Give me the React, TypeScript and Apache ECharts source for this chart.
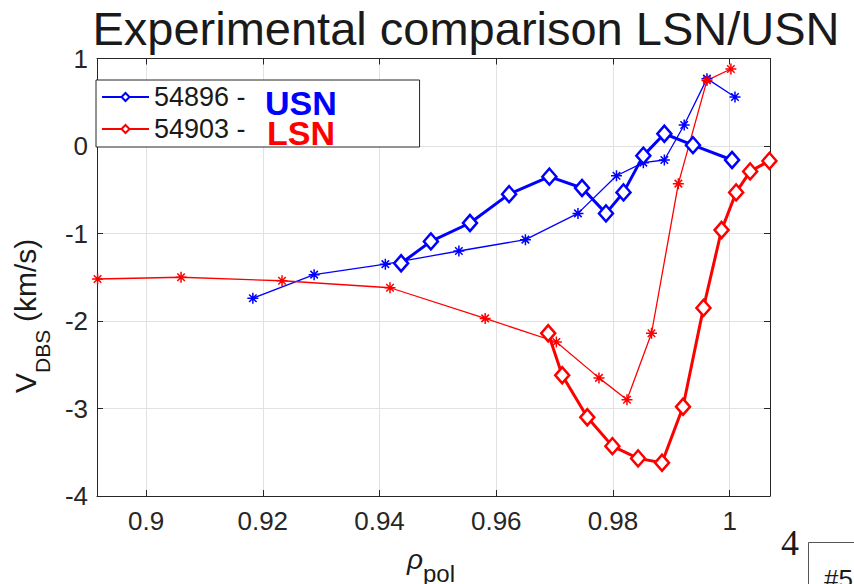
import React, { useEffect, useRef } from 'react';
import * as echarts from 'echarts';

// 54896 (USN) – thick line with diamonds
const blueDiaX = [0.9437, 0.9488, 0.9555, 0.9622, 0.9691, 0.9747, 0.9788, 0.9818, 0.9852, 0.9888, 0.9937, 1.0004];
const blueDiaY = [-1.34, -1.09, -0.88, -0.55, -0.35, -0.48, -0.77, -0.53, -0.11, 0.14, 0.01, -0.16];
// 54896 – thin line with asterisks
const blueStarX = [0.9183, 0.9288, 0.9410, 0.9536, 0.9650, 0.9740, 0.9806, 0.9852, 0.9888, 0.9922, 0.9961, 1.0009];
const blueStarY = [-1.74, -1.47, -1.35, -1.20, -1.07, -0.77, -0.34, -0.19, -0.16, 0.24, 0.77, 0.56];
// 54903 (LSN) – thick line with diamonds
const redDiaX = [0.9689, 0.9713, 0.9756, 0.9799, 0.9843, 0.9884, 0.9920, 0.9955, 0.9986, 1.0011, 1.0035, 1.0068];
const redDiaY = [-2.14, -2.62, -3.10, -3.43, -3.57, -3.62, -2.98, -1.85, -0.96, -0.53, -0.29, -0.17];
// 54903 – thin line with asterisks
const redStarX = [0.8917, 0.9060, 0.9233, 0.9418, 0.9581, 0.9703, 0.9776, 0.9824, 0.9866, 0.9912, 0.9961, 1.0002];
const redStarY = [-1.52, -1.50, -1.54, -1.62, -1.97, -2.24, -2.65, -2.90, -2.14, -0.43, 0.75, 0.88];

const seriesNames = ['54896 -', '54903 -'];
const tagTexts = ['USN', 'LSN'];
const titleText = 'Experimental comparison LSN/USN';

const xMin = 0.8916;
const xMax = 1.0069;
const yMin = -4;
const yMax = 1;
const yInterval = 1;

const BLUE = '#0000ff';
const RED = '#ff0000';
const AX = '#262626';
const GRID = '#e2e2e2';
const FONT = '"Liberation Sans", Arial, Helvetica, sans-serif';
const ASTERISK = 'path://M5,0L5,10M0,5L10,5M1.6,1.6L8.4,8.4M1.6,8.4L8.4,1.6';

const pair = (xs: number[], ys: number[]) => xs.map((x, i) => [x, ys[i]]);

export default function App() {
  const ref = useRef<HTMLDivElement>(null);
  useEffect(() => {
    if (!ref.current) return;
    const chart = echarts.init(ref.current, null, { renderer: 'svg' });

    const xBase = {
      type: 'value',
      min: xMin,
      max: xMax,
      splitNumber: 5,
      axisLine: { show: true, onZero: false, lineStyle: { color: AX, width: 1 } },
      axisTick: { show: true, inside: true, length: 6, lineStyle: { color: AX, width: 1 } },
    };
    const yBase = {
      type: 'value',
      min: yMin,
      max: yMax,
      interval: yInterval,
      axisLine: { show: true, onZero: false, lineStyle: { color: AX, width: 1 } },
      axisTick: { show: true, inside: true, length: 6, lineStyle: { color: AX, width: 1 } },
    };

    const thick = (name: string, data: number[][], color: string) => ({
      name,
      type: 'line',
      data,
      color,
      clip: false,
      symbol: 'diamond',
      symbolSize: [14, 16],
      lineStyle: { color, width: 3 },
      itemStyle: { color: '#ffffff', borderColor: color, borderWidth: 2.5 },
      z: 3,
    });
    const thin = (name: string, data: number[][], color: string) => ({
      name,
      type: 'line',
      data,
      color,
      clip: false,
      symbol: ASTERISK,
      symbolSize: 11,
      lineStyle: { color, width: 1.3 },
      itemStyle: { color: 'none', borderColor: color, borderWidth: 1.5 },
      z: 2,
    });

    const yLabelX = 25;
    chart.setOption({
      animation: false,
      backgroundColor: '#ffffff',
      grid: { left: 97, right: 84, top: 58.5, bottom: 88, containLabel: false },
      xAxis: [
        {
          ...xBase,
          position: 'bottom',
          axisLabel: {
            showMinLabel: false,
            showMaxLabel: false,
            color: AX,
            fontSize: 26,
            fontFamily: FONT,
            margin: 12,
          },
          splitLine: { show: true, lineStyle: { color: GRID, width: 1 } },
        },
        {
          ...xBase,
          position: 'top',
          axisLabel: { show: false },
          splitLine: { show: false },
        },
      ],
      yAxis: [
        {
          ...yBase,
          position: 'left',
          axisLabel: { color: AX, fontSize: 26, fontFamily: FONT, margin: 9 },
          splitLine: { show: true, lineStyle: { color: GRID, width: 1 } },
        },
        {
          ...yBase,
          position: 'right',
          axisLabel: { show: false },
          splitLine: { show: false },
        },
      ],
      legend: {
        show: true,
        data: seriesNames,
        orient: 'vertical',
        left: 96,
        top: 80,
        padding: [2, 174, 3, 5],
        itemGap: 2,
        itemWidth: 47,
        itemHeight: 10,
        itemTextGap: 3,
        backgroundColor: '#ffffff',
        borderColor: AX,
        borderWidth: 1,
        lineStyle: { width: 2 },
        itemStyle: { borderWidth: 2 },
        textStyle: { fontSize: 27, color: '#1a1a1a', fontFamily: FONT, lineHeight: 30 },
      },
      series: [
        thin('54896 star', pair(blueStarX, blueStarY), BLUE),
        thick(seriesNames[0], pair(blueDiaX, blueDiaY), BLUE),
        thin('54903 star', pair(redStarX, redStarY), RED),
        thick(seriesNames[1], pair(redDiaX, redDiaY), RED),
      ],
      graphic: [
        {
          type: 'text', x: 466, y: 28.5, z: 100,
          style: { text: titleText, fill: '#1a1a1a', fontSize: 47, fontFamily: FONT, textAlign: 'center', textVerticalAlign: 'middle' },
        },
        {
          type: 'text', x: 265, y: 102.5, z: 100,
          style: { text: tagTexts[0], fill: BLUE, fontSize: 34, fontWeight: 'bold', fontFamily: FONT, textAlign: 'left', textVerticalAlign: 'middle' },
        },
        {
          type: 'text', x: 267, y: 133, z: 100,
          style: { text: tagTexts[1], fill: RED, fontSize: 34, fontWeight: 'bold', fontFamily: FONT, textAlign: 'left', textVerticalAlign: 'middle' },
        },
        // y-axis label: V_DBS (km/s)
        {
          type: 'text', x: yLabelX, y: 393, rotation: Math.PI / 2, z: 100,
          style: { text: 'V', fill: '#1a1a1a', fontSize: 30, fontFamily: FONT, textAlign: 'left', textVerticalAlign: 'middle' },
        },
        {
          type: 'text', x: 42, y: 373, rotation: Math.PI / 2, z: 100,
          style: { text: 'DBS', fill: '#1a1a1a', fontSize: 21, fontFamily: FONT, textAlign: 'left', textVerticalAlign: 'middle' },
        },
        {
          type: 'text', x: yLabelX, y: 322, rotation: Math.PI / 2, z: 100,
          style: { text: '(km/s)', fill: '#1a1a1a', fontSize: 30, fontFamily: FONT, textAlign: 'left', textVerticalAlign: 'middle' },
        },
        // x-axis label: rho_pol
        {
          type: 'text', x: 407, y: 559, z: 100,
          style: { text: 'ρ', fill: '#1a1a1a', fontSize: 28, fontStyle: 'italic', fontFamily: FONT, textAlign: 'left', textVerticalAlign: 'middle' },
        },
        {
          type: 'text', x: 423, y: 573, z: 100,
          style: { text: 'pol', fill: '#1a1a1a', fontSize: 24, fontFamily: FONT, textAlign: 'left', textVerticalAlign: 'middle' },
        },
        // page number & slide tag
        {
          type: 'text', x: 781, y: 543, z: 100,
          style: { text: '4', fill: '#1a1a1a', fontSize: 36, fontFamily: '"Liberation Serif", "Times New Roman", serif', textAlign: 'left', textVerticalAlign: 'middle' },
        },
        {
          type: 'rect', z: 100,
          shape: { x: 808.5, y: 542.5, width: 100, height: 100 },
          style: { fill: '#ffffff', stroke: '#555555', lineWidth: 1 },
        },
        {
          type: 'text', x: 824, y: 579, z: 101,
          style: { text: '#5', fill: '#1a1a1a', fontSize: 26, fontFamily: FONT, textAlign: 'left', textVerticalAlign: 'middle' },
        },
      ],
    });
    return () => chart.dispose();
  }, []);
  return (
    <div
      ref={ref}
      style={{ position: 'fixed', left: 0, top: 0, width: 854, height: 584, background: '#fff' }}
    />
  );
}
